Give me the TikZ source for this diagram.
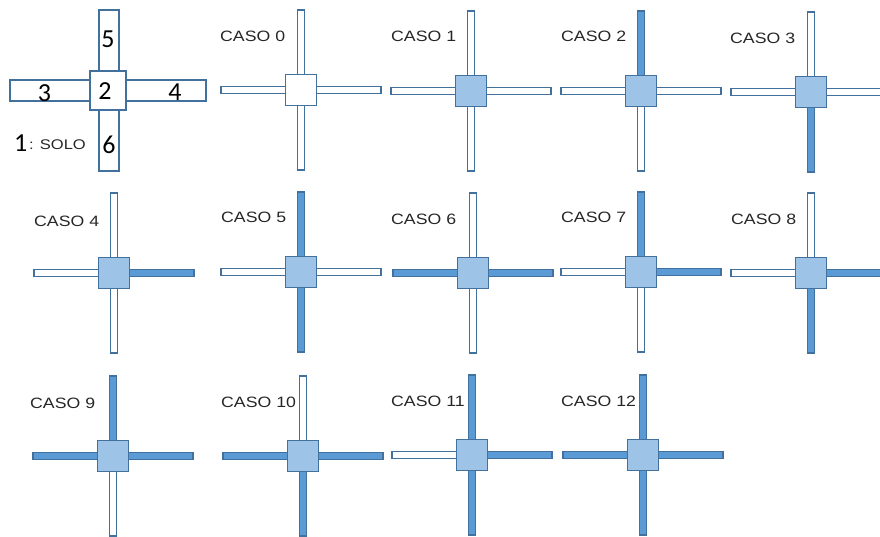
\documentclass[tikz,border=0pt]{standalone}
\usepackage{fontspec}
\setmainfont{Liberation Sans}
\newfontfamily\labfont[FakeStretch=1.18]{Liberation Sans}
\newfontfamily\digfont{Carlito}
\definecolor{edgeblue}{HTML}{41719C}
\definecolor{sqfill}{HTML}{9DC3E6}
\definecolor{barfill}{HTML}{5B9BD5}
\definecolor{txt}{HTML}{262626}
\tikzset{
  hollow/.style={draw=edgeblue, fill=white, line width=1.1pt},
  filled/.style={draw=edgeblue, fill=barfill, line width=1.1pt},
  sqbox/.style={rectangle, draw=edgeblue, fill=sqfill, line width=1.2pt, minimum width=31pt, minimum height=31pt, inner sep=0pt},
  sqwhite/.style={sqbox, fill=white},
  caselab/.style={anchor=west, inner sep=0pt, text=txt, font=\labfont\fontsize{15}{18}\selectfont},
  diglab/.style={inner sep=0pt, text=black, font=\digfont\fontsize{26}{30}\selectfont}
}
\newcommand\crossbox[8]{%
  \begin{scope}[shift={(#2,#3)}]
    \draw[#4] (-3.5,-80) rectangle (3.5,0);
    \draw[#6] (-3.5,0) rectangle (3.5,80);
    \draw[#5] (0,-3.5) rectangle (80,3.5);
    \draw[#7] (-80,-3.5) rectangle (0,3.5);
    \node[#8] (#1) at (0,0) {};
  \end{scope}}
\begin{document}
\begin{tikzpicture}[x=1pt,y=-1pt]
\useasboundingbox (0,0) rectangle (880,536);
\clip (0,0) rectangle (880,536);
% reference layout
\draw[hollow, line width=1.2pt] (99,10) rectangle (119,171);
\draw[hollow, line width=1.2pt] (10,80) rectangle (206,101);
\node[sqwhite, minimum width=36pt, minimum height=39pt] (solo) at (108,90.5) {};
\node[diglab] (d5) at (108,39) {5};
\node[diglab] (d3) at (44.5,93) {3};
\node[diglab] (d2) at (105,91) {2};
\node[diglab] (d4) at (175,92) {4};
\node[diglab] (d6) at (109,145) {6};
\node[diglab, anchor=west] (d1) at (14,143.5) {1};
\node[caselab] (sololab) at (29,145) {\fontsize{14}{16}\selectfont: SOLO};
% row 1
\crossbox{c0}{301}{90}{hollow}{hollow}{hollow}{hollow}{sqwhite}
\crossbox{c1}{471}{91}{hollow}{hollow}{hollow}{hollow}{sqbox}
\crossbox{c2}{641}{91}{filled}{hollow}{hollow}{hollow}{sqbox}
\crossbox{c3}{811}{92}{hollow}{hollow}{filled}{hollow}{sqbox}
% row 2
\crossbox{c4}{114}{273}{hollow}{filled}{hollow}{hollow}{sqbox}
\crossbox{c5}{301}{272}{filled}{hollow}{filled}{hollow}{sqbox}
\crossbox{c6}{473}{273}{hollow}{filled}{hollow}{filled}{sqbox}
\crossbox{c7}{641}{272}{filled}{filled}{hollow}{hollow}{sqbox}
\crossbox{c8}{811}{273}{hollow}{filled}{filled}{hollow}{sqbox}
% row 3
\crossbox{c9}{113}{456}{filled}{filled}{hollow}{filled}{sqbox}
\crossbox{c10}{303}{456}{hollow}{filled}{filled}{filled}{sqbox}
\crossbox{c11}{472}{455}{filled}{filled}{filled}{hollow}{sqbox}
\crossbox{c12}{643}{455}{filled}{filled}{filled}{filled}{sqbox}
% labels
\node[caselab] (l0) at (220,36) {CASO 0};
\node[caselab] (l1) at (391,36) {CASO 1};
\node[caselab] (l2) at (561,36) {CASO 2};
\node[caselab] (l3) at (730,38) {CASO 3};
\node[caselab] (l4) at (34,221) {CASO 4};
\node[caselab] (l5) at (221,217.5) {CASO 5};
\node[caselab] (l6) at (391,219) {CASO 6};
\node[caselab] (l7) at (561,217.5) {CASO 7};
\node[caselab] (l8) at (731,219) {CASO 8};
\node[caselab] (l9) at (30,403) {CASO 9};
\node[caselab] (l10) at (221,402) {CASO 10};
\node[caselab] (l11) at (391,401) {CASO 11};
\node[caselab] (l12) at (561,401) {CASO 12};
\end{tikzpicture}
\end{document}
